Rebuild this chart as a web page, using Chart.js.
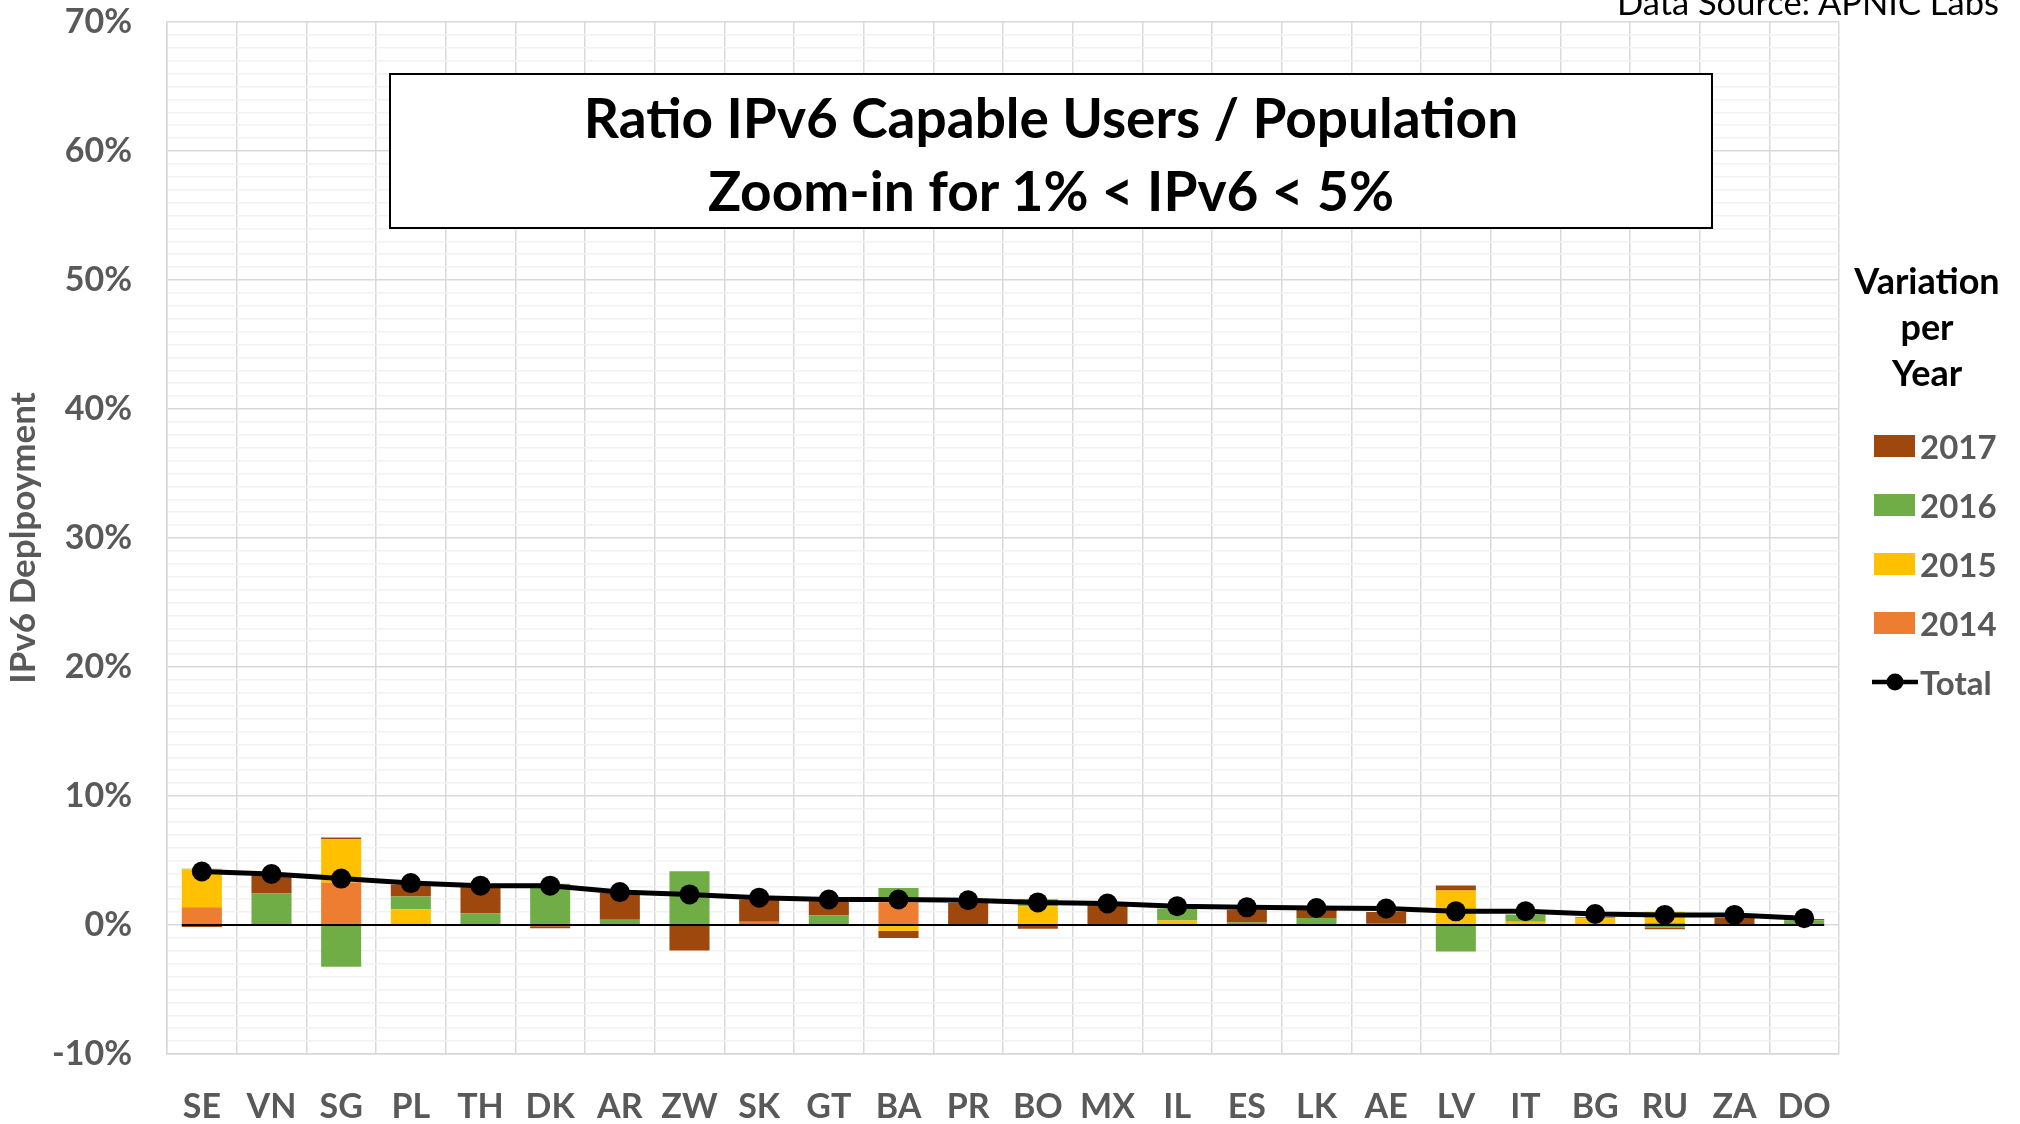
<!DOCTYPE html>
<html>
<head>
<meta charset="utf-8">
<script src="https://cdn.jsdelivr.net/npm/chart.js@4.4.1/dist/chart.umd.min.js"></script>
<style>
  html, body { margin:0; padding:0; background:#fff; }
  #wrap { position:relative; width:2020px; height:1124px; overflow:hidden; }
  #c { position:absolute; left:0; top:0; }
  #titleBox { position:absolute; left:389px; top:73px; width:1320px; height:152px; border:2px solid #000; background:#fff;
    font-family:Lato, sans-serif; font-weight:bold; font-size:55px; line-height:73px; text-align:center; color:#000; box-sizing:content-box; padding-top:0; }
  #titleBox div:first-child { margin-top:6px; }
  #source { position:absolute; right:21px; top:-19px; font-family:Lato, sans-serif; font-size:34.5px; color:#000; white-space:nowrap; }
  #legHead { position:absolute; left:1838px; width:178px; top:257px; text-align:center; font-family:Lato, sans-serif; font-weight:bold; font-size:36px; line-height:46px; color:#000; }
  .legItem { position:absolute; left:1872px; height:40px; font-family:Lato, sans-serif; font-weight:bold; font-size:33px; color:#595959; }
  .legItem .sw { position:absolute; left:2px; top:9px; width:41px; height:22px; }
  .legItem .txt { position:absolute; left:48px; top:0; line-height:40px; }
</style>
</head>
<body>
<div id="wrap">
  <canvas id="c" width="2020" height="1124"></canvas>
  <div id="titleBox"><div>Ratio IPv6 Capable Users / Population</div><div>Zoom-in for 1% &lt; IPv6 &lt; 5%</div></div>
  <div id="source">Data Source: APNIC Labs</div>
  <div id="legHead">Variation<br>per<br>Year</div>
  <div id="legend"></div>
</div>
<script>
// ---- data (values in percent) ----
const categories = ['SE','VN','SG','PL','TH','DK','AR','ZW','SK','GT','BA','PR','BO','MX','IL','ES','LK','AE','LV','IT','BG','RU','ZA','DO'];
const v2014 = [1.37, 0, 3.29, 0.08, -0.05, -0.10, 0, 0, 0.26, 0, 1.76, 0, 0.10, 0, 0, 0, 0, 0, 0, 0, 0, 0.15, 0.05, 0];
const v2015 = [2.95, 0.05, 3.37, 1.15, 0, 0.05, 0, 0, 0, 0, -0.44, 0, 1.35, 0, 0.35, 0, 0, 0, 2.67, 0.26, 0.52, 0.88, 0, 0];
const v2016 = [0.05, 2.40, -3.24, 0.98, 0.90, 3.15, 0.41, 4.17, 0, 0.73, 1.11, 0, 0.55, 0.05, 0.93, 0.20, 0.55, 0.10, -2.05, 0.56, 0.10, -0.20, 0, 0.36];
const v2017 = [-0.15, 1.40, 0.13, 0.93, 2.07, -0.15, 2.07, -1.97, 1.71, 1.11, -0.57, 1.71, -0.30, 1.60, 0, 0.98, 0.62, 0.90, 0.39, 0, 0, -0.12, 0.50, 0.10];
const total = [4.15, 3.95, 3.60, 3.25, 3.05, 3.05, 2.55, 2.37, 2.12, 1.98, 1.98, 1.92, 1.75, 1.67, 1.45, 1.37, 1.32, 1.28, 1.06, 1.07, 0.85, 0.78, 0.78, 0.52];
const yTicks = [-10, 0, 10, 20, 30, 40, 50, 60, 70];

const colors = { '2017':'#9E480E', '2016':'#70AD47', '2015':'#FFC000', '2014':'#ED7D31' };

const barCommon = { type:'bar', stack:'years', barPercentage:1, categoryPercentage:0.575, order:1, borderWidth:0 };
const datasets = [
  { label:'Total', type:'line', data:total, stack:'total', order:0, borderColor:'#000', backgroundColor:'#000',
    borderWidth:5, pointRadius:10, pointBackgroundColor:'#000', pointBorderWidth:0, tension:0 },
  Object.assign({ label:'2014', data:v2014, backgroundColor:colors['2014'] }, barCommon),
  Object.assign({ label:'2015', data:v2015, backgroundColor:colors['2015'] }, barCommon),
  Object.assign({ label:'2016', data:v2016, backgroundColor:colors['2016'] }, barCommon),
  Object.assign({ label:'2017', data:v2017, backgroundColor:colors['2017'] }, barCommon)
];

const zeroLine = {
  id:'zeroLine',
  afterDatasetsDraw(chart) {
    const meta = chart.getDatasetMeta(1);
    const first = meta.data[0], last = meta.data[meta.data.length-1];
    const y = chart.scales.y.getPixelForValue(0);
    const ctx = chart.ctx;
    ctx.save();
    ctx.strokeStyle = '#000';
    ctx.lineWidth = 2;
    ctx.beginPath();
    ctx.moveTo(first.x - first.width/2, y);
    ctx.lineTo(last.x + last.width/2, y);
    ctx.stroke();
    ctx.restore();
  }
};

Chart.defaults.font.family = 'Lato, sans-serif';

new Chart(document.getElementById('c'), {
  type:'bar',
  data:{ labels:categories, datasets:datasets },
  plugins:[zeroLine],
  options:{
    responsive:false, animation:false, devicePixelRatio:1,
    layout:{ padding:{ left:0, right:181, top:22, bottom:0 } },
    plugins:{ legend:{ display:false }, tooltip:{ enabled:false } },
    scales:{
      x:{
        stacked:true,
        afterFit(s){ s.height = 70; s.paddingLeft = 0; s.paddingRight = 0; },
        grid:{ color:'#d9d9d9', lineWidth:1.5, drawTicks:false, offset:true },
        border:{ display:true, color:'#d9d9d9', width:1.5 },
        ticks:{ color:'#595959', font:{ size:34, weight:'bold' }, padding:33, autoSkip:false, maxRotation:0 }
      },
      y:{
        stacked:true, min:-10, max:70,
        afterFit(s){ s.width = 167; s.paddingTop = 0; s.paddingBottom = 0; },
        afterBuildTicks(s){
          const t = [];
          for (let v = -10; v <= 70; v++) t.push({ value:v });
          s.ticks = t;
        },
        grid:{ drawTicks:false, lineWidth:1.5,
          color(ctx){ const v = ctx.tick ? ctx.tick.value : 0; return yTicks.includes(v) ? '#d9d9d9' : '#f2f2f2'; } },
        border:{ display:true, color:'#d9d9d9', width:1.5 },
        ticks:{ color:'#595959', font:{ size:34, weight:'bold' }, padding:35, autoSkip:false,
          callback(v){ return yTicks.includes(v) ? v + '%' : ''; } },
        title:{ display:true, text:'IPv6 Deplpoyment', color:'#595959', font:{ size:35, weight:'bold' }, padding:{ top:3, bottom:0 } }
      }
    }
  }
});

// HTML legend built from dataset list
const legendOrder = ['2017','2016','2015','2014','Total'];
const legendY = [446, 505, 564, 623, 682];
const legEl = document.getElementById('legend');
legendOrder.forEach((lab, i) => {
  const item = document.createElement('div');
  item.className = 'legItem';
  item.style.top = (legendY[i] - 20) + 'px';
  if (lab === 'Total') {
    item.innerHTML = '<svg style="position:absolute;left:0;top:8px" width="46" height="24"><line x1="0" y1="12" x2="46" y2="12" stroke="#000" stroke-width="4.5" stroke-linecap="round"/><circle cx="23" cy="12" r="8.5" fill="#000"/></svg><span class="txt">' + lab + '</span>';
  } else {
    item.innerHTML = '<span class="sw" style="background:' + colors[lab] + '"></span><span class="txt">' + lab + '</span>';
  }
  legEl.appendChild(item);
});
</script>
</body>
</html>
